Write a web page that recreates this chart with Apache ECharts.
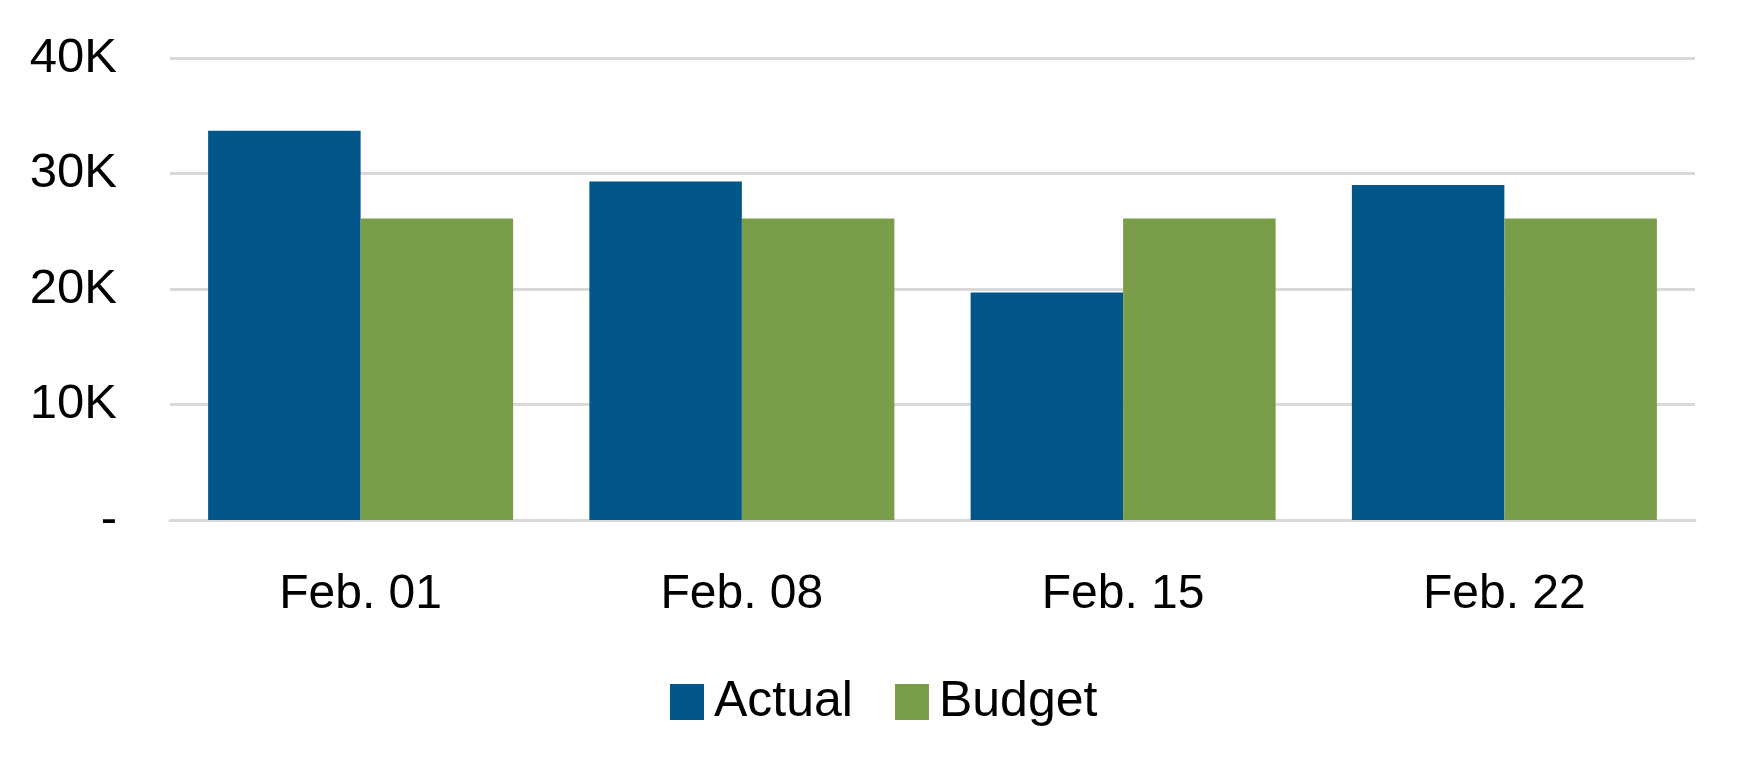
<!DOCTYPE html>
<html>
<head>
<meta charset="utf-8">
<script src="https://cdn.jsdelivr.net/npm/echarts@6/dist/echarts.min.js"></script>
<style>
  html, body { margin: 0; padding: 0; background: #fff; }
  #chart { width: 1750px; height: 779px; }
</style>
</head>
<body>
<div id="chart"></div>
<script>
// data
const categories = ["Feb. 01", "Feb. 08", "Feb. 15", "Feb. 22"];
const actual = [33700, 29300, 19700, 29000];
const budget = [26100, 26100, 26100, 26100];
const seriesNames = ["Actual", "Budget"];

const chart = echarts.init(document.getElementById("chart"));

const option = {
  animation: false,
  color: ["#02568A", "#7A9D4A"],
  legend: {
    left: 665,
    top: 672,
    itemWidth: 34,
    itemHeight: 36,
    itemGap: 42,
    icon: "rect",
    textStyle: {
      fontFamily: "Liberation Sans",
      fontSize: 50,
      color: "#000",
      padding: [0, 0, 0, 5],
    },
    data: seriesNames,
  },
  grid: {
    left: 170,
    right: 55,
    top: 58,
    bottom: 259,
  },
  xAxis: {
    type: "category",
    data: categories,
    axisTick: { show: false },
    axisLine: {
      lineStyle: { color: "#d9d9d9", width: 3 },
    },
    axisLabel: {
      margin: 51,
      fontFamily: "Liberation Sans",
      fontSize: 48,
      color: "#000",
    },
  },
  yAxis: {
    type: "value",
    min: 0,
    max: 40000,
    interval: 10000,
    axisLine: { show: false },
    axisTick: { show: false },
    splitLine: {
      lineStyle: { color: "#d9d9d9", width: 3 },
    },
    axisLabel: {
      margin: 53,
      fontFamily: "Liberation Sans",
      fontSize: 49,
      color: "#000",
      formatter: function (v) {
        return v === 0 ? "-" : v / 1000 + "K";
      },
    },
  },
  series: [
    {
      name: seriesNames[0],
      type: "bar",
      barGap: "0%",
      barCategoryGap: "20%",
      data: actual,
    },
    {
      name: seriesNames[1],
      type: "bar",
      barGap: "0%",
      barCategoryGap: "20%",
      data: budget,
    },
  ],
};
chart.setOption(option);
</script>
</body>
</html>
